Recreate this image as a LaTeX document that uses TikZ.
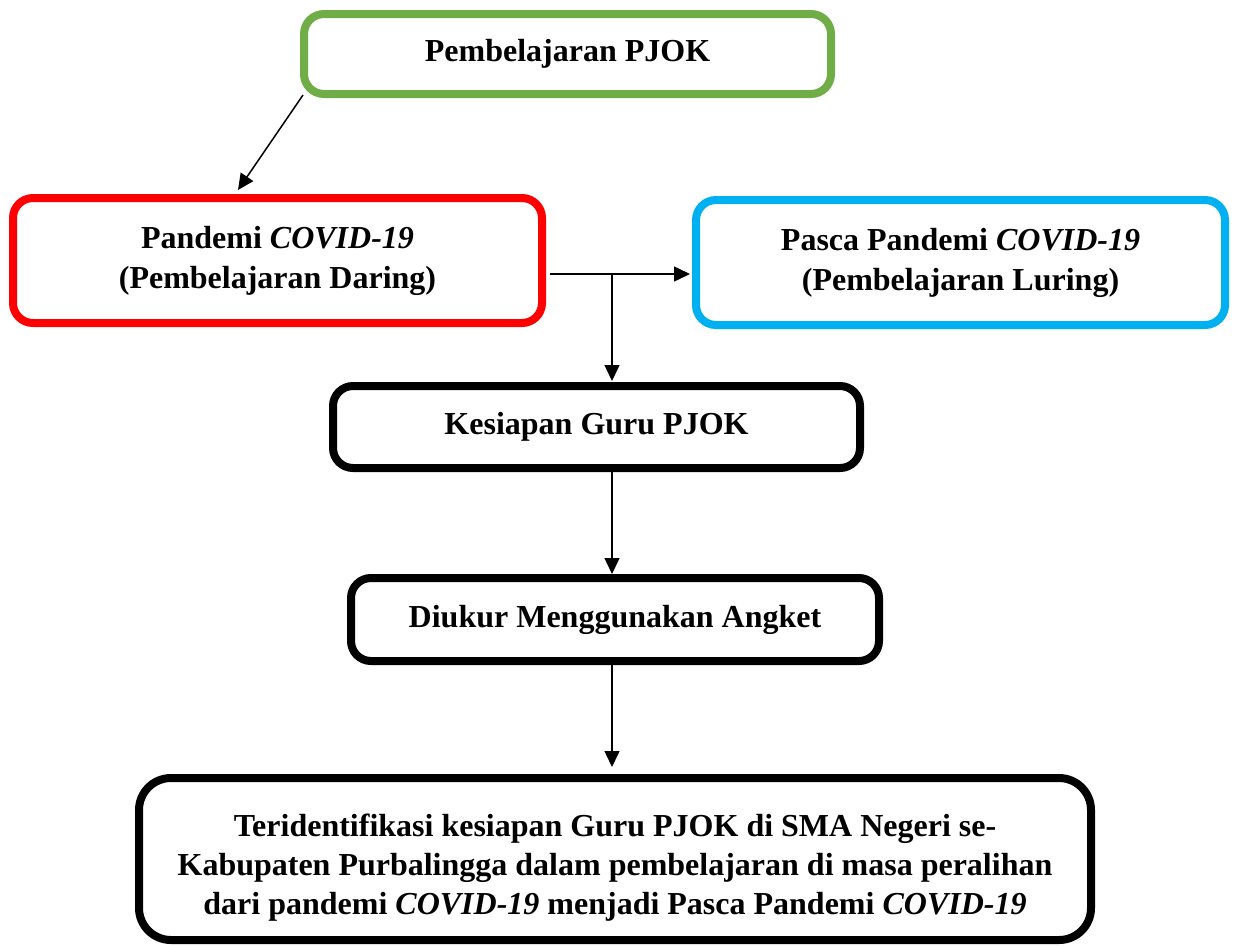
\documentclass[tikz,border=0pt]{standalone}
\usepackage{fontspec}
\setmainfont{Liberation Serif}
\usetikzlibrary{arrows.meta}
\definecolor{pgreen}{HTML}{70AD47}
\definecolor{pred}{HTML}{FF0000}
\definecolor{pblue}{HTML}{00B0F0}
\tikzset{
  box/.style={draw, line width=8pt, rounded corners=20pt, align=center, inner sep=0pt,
    font=\fontsize{32}{40}\selectfont\bfseries},
  arr/.style={line width=1.5pt, -{Triangle[length=16pt,width=15pt]}},
}
\begin{document}
\begin{tikzpicture}[x=1pt,y=-1pt]
\useasboundingbox[fill=white] (0,0) rectangle (1238,945);
\node[box, draw=pgreen, minimum width=527pt, minimum height=80pt] (a) at (567.5,54) {\raisebox{3pt}{Pembelajaran PJOK}};
\node[box, draw=pred, minimum width=529pt, minimum height=125pt] (b) at (277.5,260.5) {\raisebox{-3pt}{Pandemi \textit{COVID-19}}\\\raisebox{-3pt}{(Pembelajaran Daring)}};
\node[box, draw=pblue, minimum width=529pt, minimum height=125pt] (c) at (960.5,262.5) {Pasca Pandemi \textit{COVID-19}\\(Pembelajaran Luring)};
\node[box, draw=black, minimum width=527pt, minimum height=82pt] (d) at (596.5,427) {\raisebox{2pt}{Kesiapan Guru PJOK}};
\node[box, draw=black, minimum width=528pt, minimum height=83pt] (e) at (615,619.5) {\raisebox{1pt}{Diukur Menggunakan Angket}};
\node[box, draw=black, rounded corners=32pt, minimum width=952pt, minimum height=162pt] (f) at (615,859) {};
\node[align=center, inner sep=0pt, font=\fontsize{32}{39}\selectfont\bfseries] (ft) at (615,868)
  {Teridentifikasi kesiapan Guru PJOK di SMA Negeri se-\\Kabupaten Purbalingga dalam pembelajaran di masa peralihan\\dari pandemi \textit{COVID-19} menjadi Pasca Pandemi \textit{COVID-19}};
\coordinate (a1) at (303,95);
\coordinate (b1) at (238,190);
\coordinate (j0) at (550,274);
\coordinate (j1) at (612,274);
\coordinate (c1) at (690,274);
\coordinate (d1) at (612,381);
\coordinate (d2) at (612,468);
\coordinate (e1) at (612,574);
\coordinate (e2) at (612,661);
\coordinate (f1) at (612,767);
\draw[arr] (a1) -- (b1);
\draw[arr] (j0) -- (c1);
\draw[arr] (j1) -- (d1);
\draw[arr] (d2) -- (e1);
\draw[arr] (e2) -- (f1);
\end{tikzpicture}
\end{document}
